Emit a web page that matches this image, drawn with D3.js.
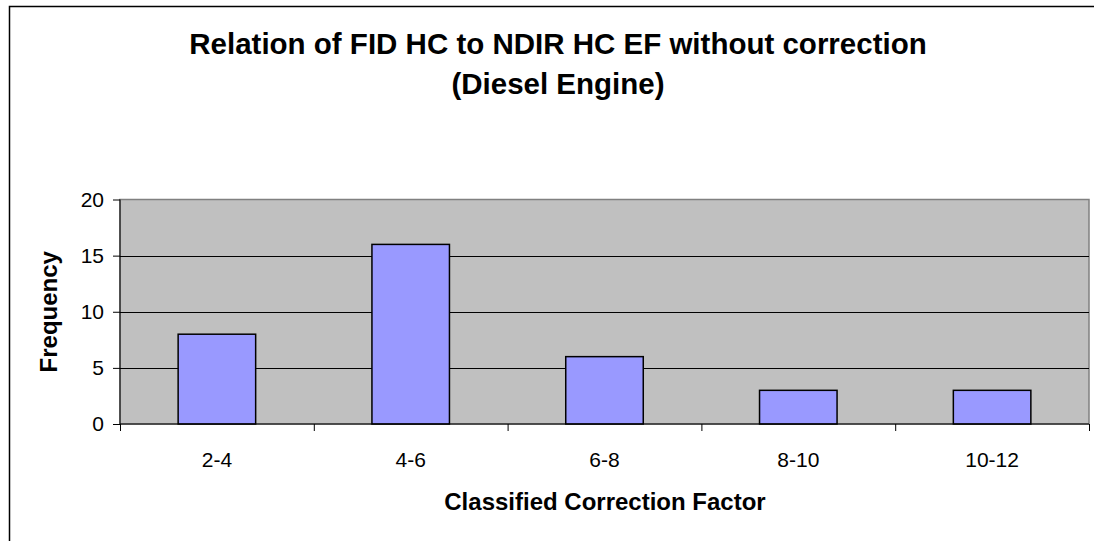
<!DOCTYPE html>
<html>
<head>
<meta charset="utf-8">
<script src="https://cdn.jsdelivr.net/npm/d3@7"></script>
<style>
  body { margin: 0; background: #fff; }
  svg { display: block; font-family: "Liberation Sans", Arial, sans-serif; }
</style>
</head>
<body>
<div id="chart"></div>
<script>
const categories = ["2-4", "4-6", "6-8", "8-10", "10-12"];
const frequency = [8, 16, 6, 3, 3];
const yTicks = [0, 5, 10, 15, 20];
const titleLines = ["Relation of FID HC to NDIR HC EF without correction", "(Diesel Engine)"];

const width = 1094, height = 541;
const plot = { left: 120, right: 1089, top: 199.5, bottom: 424 };

const svg = d3.select("#chart").append("svg")
  .attr("width", width)
  .attr("height", height);

// outer chart frame (runs off the right / bottom edge like the source)
svg.append("rect")
  .attr("x", 9.5).attr("y", 6.5)
  .attr("width", 1100).attr("height", 560)
  .attr("fill", "#fff").attr("stroke", "#000").attr("stroke-width", 1.5);

const x = d3.scaleBand()
  .domain(categories)
  .range([plot.left, plot.right])
  .paddingInner(0.6)
  .paddingOuter(0.3);

const y = d3.scaleLinear()
  .domain([0, 20])
  .range([plot.bottom, plot.top]);

// plot area
svg.append("rect")
  .attr("x", plot.left).attr("y", plot.top)
  .attr("width", plot.right - plot.left).attr("height", plot.bottom - plot.top)
  .attr("fill", "#c0c0c0").attr("stroke", "#808080").attr("stroke-width", 1.5);

// gridlines
svg.append("g")
  .selectAll("line")
  .data(yTicks.filter(d => d > 0 && d < 20))
  .enter().append("line")
  .attr("x1", plot.left).attr("x2", plot.right)
  .attr("y1", d => Math.round(y(d)) + 0.5).attr("y2", d => Math.round(y(d)) + 0.5)
  .attr("stroke", "#000").attr("stroke-width", 1);

// bars
svg.append("g")
  .selectAll("rect")
  .data(frequency)
  .enter().append("rect")
  .attr("x", (d, i) => x(categories[i]))
  .attr("width", x.bandwidth())
  .attr("y", d => y(d))
  .attr("height", d => y(0) - y(d))
  .attr("fill", "#9999ff")
  .attr("stroke", "#000")
  .attr("stroke-width", 1.5);

// y axis
const yAxis = svg.append("g")
  .attr("transform", `translate(${plot.left},0)`)
  .call(d3.axisLeft(y).tickValues(yTicks).tickSize(7).tickPadding(9));
yAxis.selectAll("text").style("font-size", "21px").attr("fill", "#000");
yAxis.selectAll("line").attr("stroke", "#000");
yAxis.select(".domain").attr("stroke", "#000").attr("d", `M0,${plot.top}V${plot.bottom}`);

// x axis: ticks on category boundaries
const xb = d3.scaleLinear().domain([0, categories.length]).range([plot.left, plot.right]);
const xAxis = svg.append("g")
  .attr("transform", `translate(0,${plot.bottom})`)
  .call(d3.axisBottom(xb).tickValues(d3.range(categories.length + 1)).tickSize(7).tickFormat(""));
xAxis.selectAll("line").attr("stroke", "#000");
xAxis.select(".domain").attr("stroke", "#000").attr("d", `M${plot.left},0H${plot.right}`);

svg.append("g")
  .selectAll("text")
  .data(categories)
  .enter().append("text")
  .attr("x", d => x(d) + x.bandwidth() / 2)
  .attr("y", 467)
  .attr("text-anchor", "middle")
  .style("font-size", "21px")
  .text(d => d);

// title
svg.append("g")
  .selectAll("text")
  .data(titleLines)
  .enter().append("text")
  .attr("x", 558)
  .attr("y", (d, i) => 54 + i * 40)
  .attr("text-anchor", "middle")
  .style("font-size", "29.5px")
  .style("font-weight", "bold")
  .text(d => d);

// axis titles
svg.append("text")
  .attr("x", 605).attr("y", 510)
  .attr("text-anchor", "middle")
  .style("font-size", "24px")
  .style("font-weight", "bold")
  .text("Classified Correction Factor");

svg.append("text")
  .attr("transform", `translate(57,${(plot.top + plot.bottom) / 2}) rotate(-90)`)
  .attr("text-anchor", "middle")
  .style("font-size", "24px")
  .style("font-weight", "bold")
  .text("Frequency");
</script>
</body>
</html>
